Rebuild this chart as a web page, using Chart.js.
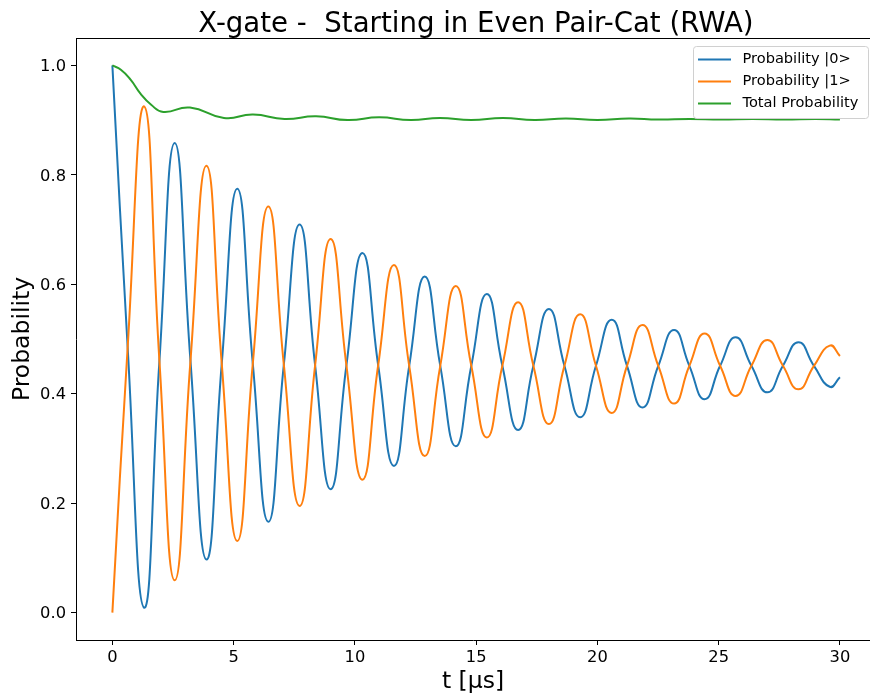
<!DOCTYPE html>
<html lang="en">
<head>
  <meta charset="UTF-8">
  <title>X-gate - Even Pair-Cat</title>
  <script src="https://cdn.jsdelivr.net/npm/chart.js"></script>
  <style>
    html, body {
      margin: 0;
      padding: 0;
      background: #fff;
      overflow: hidden;
    }
    #wrap {
      width: 870px;
      height: 695px;
    }
    canvas { display: block; }
  </style>
</head>
<body>
<div id="wrap">
  <canvas id="probChart" width="870" height="695"></canvas>
</div>

<script>
  // time samples (µs): turning points of the oscillation and the crossings between them
  const times = [
    0, 0.63, 1.31, 1.94, 2.57, 3.22, 3.88, 4.51, 5.15, 5.79, 6.43, 7.07,
    7.72, 8.36, 9.00, 9.65, 10.31, 10.96, 11.61, 12.24, 12.88, 13.52, 14.16,
    14.80, 15.44, 16.08, 16.73, 17.36, 18.00, 18.64, 19.29, 19.94, 20.59,
    21.22, 21.86, 22.51, 23.16, 23.79, 24.42, 25.06, 25.70, 26.35, 27.01,
    27.65, 28.29, 28.93, 29.58, 30.0
  ];

  const prob0 = [
    1.0, 0.485, 0.009, 0.46, 0.858, 0.46, 0.097, 0.455, 0.7745, 0.455, 0.166, 0.453,
    0.709, 0.452, 0.2255, 0.452, 0.657, 0.452, 0.268, 0.451, 0.614, 0.451, 0.304,
    0.451, 0.582, 0.451, 0.3335, 0.451, 0.555, 0.451, 0.357, 0.451, 0.535,
    0.451, 0.375, 0.451, 0.5165, 0.451, 0.390, 0.451, 0.503, 0.451, 0.4025,
    0.451, 0.494, 0.451, 0.4127, 0.430
  ];

  const prob1 = [
    0.0, 0.485, 0.925, 0.46, 0.059, 0.46, 0.8165, 0.455, 0.131, 0.455, 0.742, 0.453,
    0.195, 0.452, 0.6826, 0.452, 0.243, 0.452, 0.635, 0.451, 0.286, 0.451, 0.597,
    0.451, 0.320, 0.451, 0.567, 0.451, 0.3445, 0.451, 0.545, 0.451, 0.365,
    0.451, 0.5256, 0.451, 0.382, 0.451, 0.510, 0.451, 0.396, 0.451, 0.498,
    0.451, 0.408, 0.451, 0.488, 0.469
  ];

  const totalTimes = [
    0, 0.35, 0.75, 1.15, 1.6, 2.1, 3.2, 4.6, 5.8, 7.1, 8.4, 9.7, 11.0, 12.3,
    13.5, 14.8, 16.1, 17.4, 18.7, 20.0, 21.3, 22.5, 23.8, 25.1, 26.4, 27.7, 29.0, 30.0
  ];
  const totalProb = [
    1.0, 0.992, 0.974, 0.949, 0.928, 0.915, 0.923, 0.904, 0.910, 0.902, 0.907, 0.900,
    0.905, 0.900, 0.904, 0.900, 0.904, 0.900, 0.903, 0.900, 0.903, 0.901, 0.902,
    0.901, 0.902, 0.901, 0.902, 0.901
  ];

  const xTicks = [0, 5, 10, 15, 20, 25, 30];
  const yTicks = [0.0, 0.2, 0.4, 0.6, 0.8, 1.0];
  const seriesLabels = ['Probability |0>', 'Probability |1>', 'Total Probability'];
  const chartTitle = 'X-gate -  Starting in Even Pair-Cat (RWA)';

  const FONT = "'DejaVu Sans', sans-serif";
  // the axes box continues a few px past the right edge of the canvas
  const AXES_RIGHT = 876;

  function toPoints(xs, ys) {
    return xs.map((x, i) => ({ x: x, y: ys[i] }));
  }

  // title centred over the full axes box
  const axesTitle = {
    id: 'axesTitle',
    afterDraw(chart) {
      const a = chart.chartArea;
      const ctx = chart.ctx;
      ctx.save();
      ctx.font = '27.6px ' + FONT;
      ctx.fillStyle = '#000';
      ctx.textAlign = 'center';
      ctx.textBaseline = 'alphabetic';
      ctx.fillText(chartTitle, (a.left + AXES_RIGHT) / 2, 31.7);
      ctx.restore();
    }
  };

  // matplotlib-like legend box in the upper right corner
  const legendBox = {
    id: 'legendBox',
    afterDraw(chart) {
      const ctx = chart.ctx;
      const x0 = 693, y0 = 46, w = 175, h = 72;
      ctx.save();
      ctx.fillStyle = 'rgba(255,255,255,0.8)';
      ctx.strokeStyle = '#d0d0d0';
      ctx.lineWidth = 1;
      ctx.beginPath();
      ctx.roundRect(x0 + 0.5, y0 + 0.5, w, h, 3);
      ctx.fill();
      ctx.stroke();
      ctx.font = '14.6px ' + FONT;
      ctx.textBaseline = 'middle';
      chart.data.datasets.forEach((ds, i) => {
        const y = 59.5 + i * 22;
        ctx.strokeStyle = ds.borderColor;
        ctx.lineWidth = 2;
        ctx.beginPath();
        ctx.moveTo(698, y);
        ctx.lineTo(731, y);
        ctx.stroke();
        ctx.fillStyle = '#000';
        ctx.fillText(ds.label, 742.5, y);
      });
      ctx.restore();
    }
  };

  // top spine
  const frame = {
    id: 'frame',
    afterDraw(chart) {
      const a = chart.chartArea;
      const ctx = chart.ctx;
      ctx.save();
      ctx.strokeStyle = '#000';
      ctx.lineWidth = 1;
      ctx.beginPath();
      ctx.moveTo(a.left, a.top + 0.5);
      ctx.lineTo(a.right, a.top + 0.5);
      ctx.stroke();
      ctx.restore();
    }
  };

  const ctx = document.getElementById('probChart').getContext('2d');
  new Chart(ctx, {
    type: 'line',
    data: {
      datasets: [
        {
          label: seriesLabels[0],
          data: toPoints(times, prob0),
          borderColor: '#1f77b4',
          order: 3
        },
        {
          label: seriesLabels[1],
          data: toPoints(times, prob1),
          borderColor: '#ff7f0e',
          order: 2
        },
        {
          label: seriesLabels[2],
          data: toPoints(totalTimes, totalProb),
          borderColor: '#2ca02c',
          order: 1
        }
      ]
    },
    options: {
      responsive: false,
      animation: false,
      devicePixelRatio: 1,
      layout: { padding: { top: 38, right: 0, bottom: 0, left: 0 } },
      elements: {
        line: { borderWidth: 2, tension: 0.5, fill: false },
        point: { radius: 0 }
      },
      plugins: {
        legend: { display: false },
        tooltip: { enabled: false },
        title: { display: false }
      },
      scales: {
        x: {
          type: 'linear',
          min: -1.5,
          max: 31.24,
          afterFit(scale) {
            scale.height = 55;
            scale.paddingLeft = 0;
            scale.paddingRight = 0;
          },
          afterBuildTicks(scale) { scale.ticks = xTicks.map(v => ({ value: v })); },
          grid: {
            display: true,
            drawOnChartArea: false,
            drawTicks: true,
            tickLength: 5,
            color: '#000'
          },
          border: { display: true, color: '#000', width: 1 },
          ticks: {
            color: '#000',
            padding: 3,
            font: { family: FONT, size: 16.3 },
            maxRotation: 0,
            callback: v => String(v)
          },
          title: {
            display: true,
            text: 't [µs]',
            color: '#000',
            font: { family: FONT, size: 23.5, lineHeight: 1.0 },
            padding: { top: 0, bottom: 1.5 }
          }
        },
        y: {
          type: 'linear',
          min: -0.05,
          max: 1.05,
          afterFit(scale) {
            scale.width = 76;
            scale.paddingTop = 0;
            scale.paddingBottom = 0;
          },
          afterBuildTicks(scale) { scale.ticks = yTicks.map(v => ({ value: v })); },
          grid: {
            display: true,
            drawOnChartArea: false,
            drawTicks: true,
            tickLength: 5,
            color: '#000'
          },
          border: { display: true, color: '#000', width: 1 },
          ticks: {
            color: '#000',
            padding: 5,
            labelOffset: 1.5,
            font: { family: FONT, size: 16.3 },
            callback: v => v.toFixed(1)
          },
          title: {
            display: true,
            text: 'Probability',
            color: '#000',
            font: { family: FONT, size: 23.5, lineHeight: 1.0 },
            padding: { top: 11, bottom: 0 }
          }
        }
      }
    },
    plugins: [axesTitle, legendBox, frame]
  });
</script>
</body>
</html>
